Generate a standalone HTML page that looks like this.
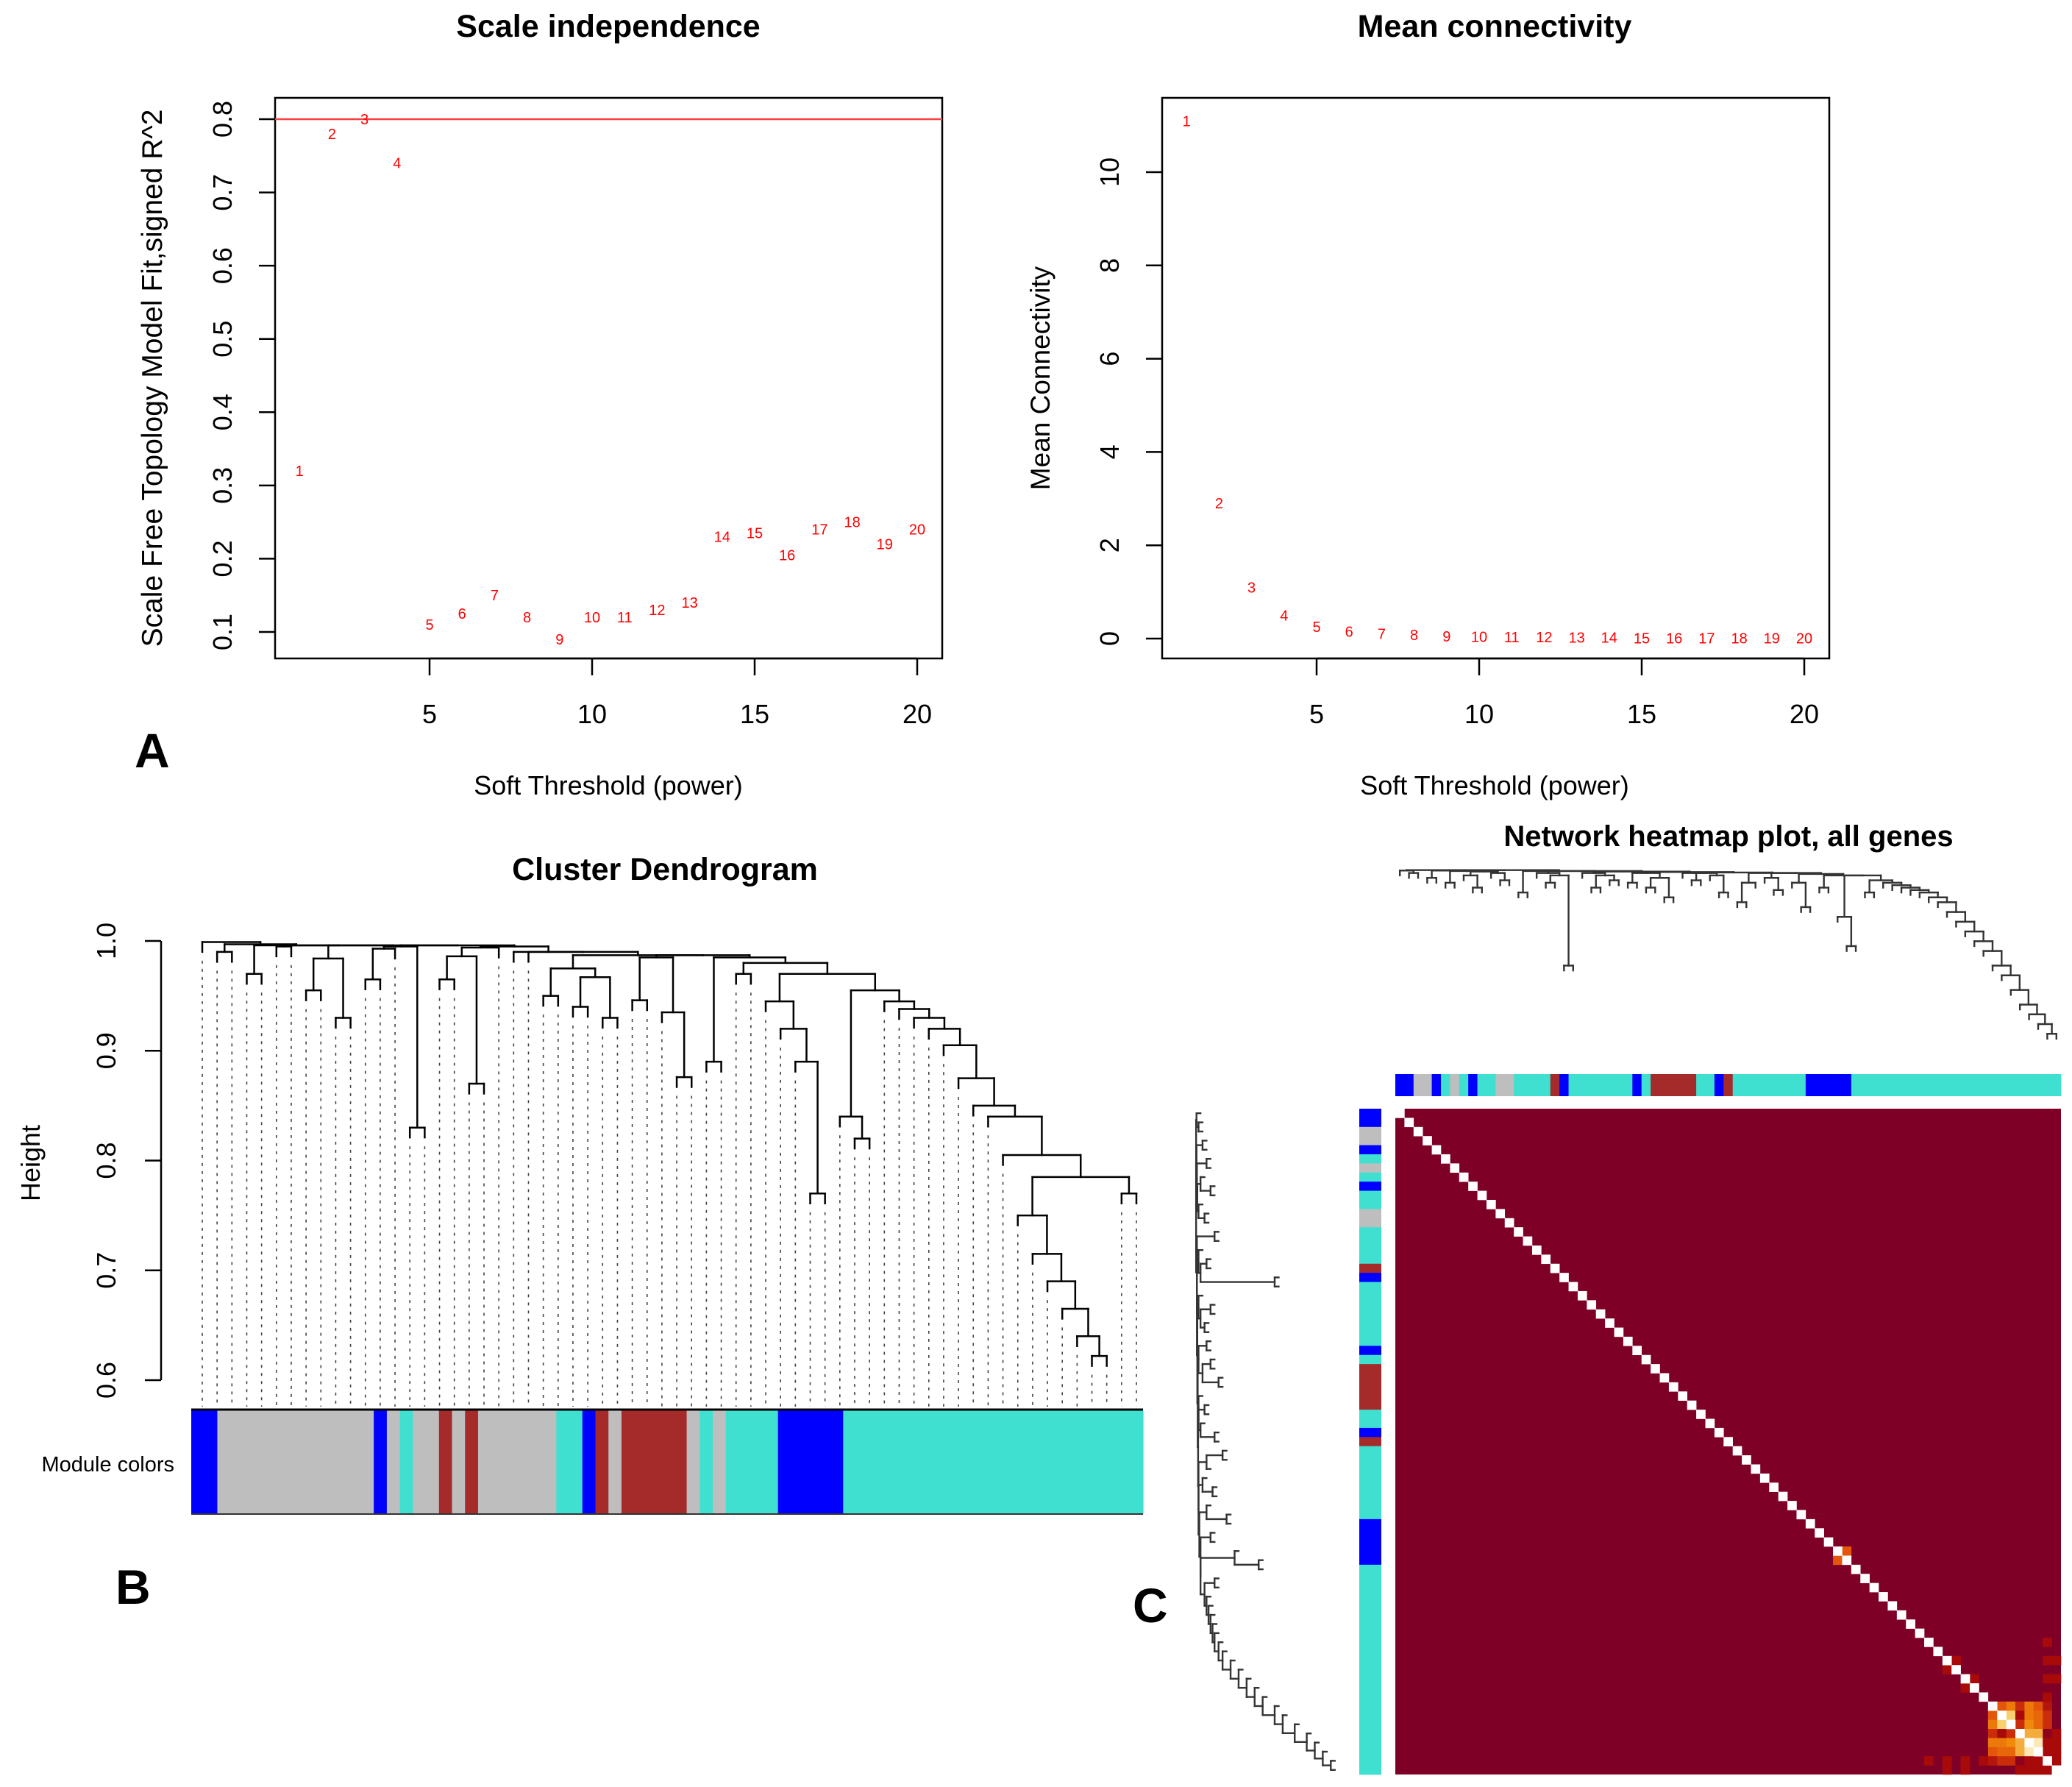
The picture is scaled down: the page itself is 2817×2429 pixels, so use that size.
<!DOCTYPE html>
<html><head><meta charset="utf-8"><style>
html,body{margin:0;padding:0;background:#fff}
svg{display:block;font-family:"Liberation Sans",sans-serif}
</style></head><body>
<svg id="fig" width="2817" height="2429" viewBox="0 0 2817 2429" xmlns="http://www.w3.org/2000/svg">
<rect width="2817" height="2429" fill="#fff"/>
<text x="827" y="50" font-size="43" font-weight="bold" text-anchor="middle">Scale independence</text>
<text x="2032" y="50" font-size="43" font-weight="bold" text-anchor="middle">Mean connectivity</text>
<text x="827" y="1080" font-size="36" text-anchor="middle">Soft Threshold (power)</text>
<text x="2032" y="1080" font-size="36" text-anchor="middle">Soft Threshold (power)</text>
<text transform="translate(220,514) rotate(-90)" font-size="39" text-anchor="middle">Scale Free Topology Model Fit,signed R^2</text>
<text transform="translate(1427,514) rotate(-90)" font-size="37" text-anchor="middle">Mean Connectivity</text>
<text x="183" y="1043" font-size="66" font-weight="bold">A</text>
<text x="157" y="2180" font-size="66" font-weight="bold">B</text>
<text x="1540" y="2205" font-size="66" font-weight="bold">C</text>
<text x="904" y="1196" font-size="43" font-weight="bold" text-anchor="middle">Cluster Dendrogram</text>
<text x="2350" y="1150" font-size="40" font-weight="bold" text-anchor="middle">Network heatmap plot, all genes</text>
<text transform="translate(54,1581) rotate(-90)" font-size="36" text-anchor="middle">Height</text>
<text x="237" y="2000" font-size="29" text-anchor="end">Module colors</text>
<g id="gA"></g>
<g id="gB"></g>
<g id="gD"></g>
<g id="gH"></g>
</svg>
<script>
const powers = [1,2,3,4,5,6,7,8,9,10,11,12,13,14,15,16,17,18,19,20];
const scaleFitR2 = [0.32,0.78,0.80,0.74,0.11,0.125,0.15,0.12,0.09,0.12,0.12,0.13,0.14,0.23,0.235,0.205,0.24,0.25,0.22,0.24];
const meanConn = [11.1,2.9,1.1,0.5,0.25,0.15,0.1,0.08,0.05,0.04,0.03,0.03,0.02,0.02,0.01,0.01,0.01,0.01,0.01,0.01];
const xTicks = [5,10,15,20];
const r2Ticks = [0.1,0.2,0.3,0.4,0.5,0.6,0.7,0.8];
const connTicks = [0,2,4,6,8,10];
const r2Cut = 0.8;
const clusterGaps = [0.999,0.99,0.997,0.97,0.996,0.995,0.996,0.955,0.984,0.93,0.996,0.965,0.993,0.995,0.83,0.996,0.965,0.986,0.87,0.994,0.995,0.99,0.99,0.95,0.975,0.94,0.967,0.93,0.987,0.946,0.985,0.935,0.876,0.987,0.89,0.985,0.97,0.98,0.945,0.92,0.89,0.77,0.97,0.84,0.82,0.955,0.945,0.938,0.93,0.92,0.905,0.875,0.85,0.84,0.805,0.75,0.715,0.69,0.665,0.64,0.622,0.785,0.77];
const heightTicks = [0.6,0.7,0.8,0.9,1.0];
const moduleRunColors = ['blue','grey','blue','grey','turquoise','grey','brown','grey','brown','grey','turquoise','blue','brown','grey','brown','grey','turquoise','grey','turquoise','blue','turquoise'];
const moduleRunLengths = [2,12,1,1,1,2,1,1,1,6,2,1,1,1,5,1,1,1,4,5,23];
const heatRunColors = ['blue','grey','blue','turquoise','grey','turquoise','blue','turquoise','grey','turquoise','brown','blue','turquoise','blue','turquoise','brown','turquoise','blue','brown','turquoise','blue','turquoise'];
const heatRunLengths = [2,2,1,1,1,1,1,2,2,4,1,1,7,1,1,5,2,1,1,8,5,23];
const heatGaps = [0.995,0.99,0.996,0.98,0.995,0.97,0.994,0.985,0.96,0.993,0.99,0.975,0.996,0.95,0.994,0.99,0.97,0.985,0.8,0.994,0.99,0.96,0.985,0.975,0.993,0.97,0.99,0.96,0.98,0.94,0.992,0.99,0.975,0.99,0.985,0.95,0.991,0.93,0.97,0.99,0.98,0.955,0.99,0.97,0.92,0.988,0.96,0.985,0.9,0.84,0.985,0.95,0.975,0.97,0.965,0.96,0.955,0.95,0.94,0.93,0.91,0.89,0.87,0.85,0.83,0.8,0.78,0.75,0.72,0.7,0.68,0.66];
const tomRows = [65,65,65,65,65,65,66,66,66,66,66,67,67,67,67,68,68,68,68,69,69,69,70,70,71,71,71,48,60,62,58,63,72,72];
const tomCols = [66,67,68,69,70,71,67,68,69,70,71,68,69,70,71,69,70,71,72,70,71,72,71,72,72,64,60,49,61,71,71,62,62,60];
const tomVals = [0.45,0.55,0.3,0.55,0.45,0.2,0.8,0.15,0.55,0.5,0.3,0.3,0.6,0.5,0.3,0.7,0.7,0.05,0.15,0.9,0.15,0.15,0.15,0.15,0.15,0.15,0.15,0.45,0.15,0.15,0.15,0.15,0.15,0.15];

const NS='http://www.w3.org/2000/svg';
function mk(parent, tag, attrs){const e=document.createElementNS(NS,tag);for(const k in attrs)e.setAttribute(k,attrs[k]);parent.appendChild(e);return e;}
const COL={blue:'#0000ff',grey:'#bebebe',turquoise:'#40e0d0',brown:'#a52a2a'};

(function(){
 const g=document.getElementById('gA');
 const X=v=>584+(v-5)*(1247-584)/15, Y=v=>859-(v-0.1)*(859-162)/0.7;
 let e=mk(g,'rect',{x:374,y:133,width:907,height:762,fill:'none',stroke:'#000','stroke-width':2.5});
 
 e=mk(g,'line',{x1:374,x2:1281,y1:Y(r2Cut),y2:Y(r2Cut),stroke:'#ff4040','stroke-width':2.5});
 
 mk(g,'line',{x1:X(xTicks[0]),x2:X(xTicks[xTicks.length-1]),y1:895,y2:895,stroke:'#000','stroke-width':2.5});
 xTicks.forEach(t=>{mk(g,'line',{x1:X(t),x2:X(t),y1:895,y2:918,stroke:'#000','stroke-width':2.5});
  e=mk(g,'text',{x:X(t),y:983,'font-size':36,'text-anchor':'middle'});e.textContent=t;
  });
 r2Ticks.forEach(t=>{mk(g,'line',{x1:352,x2:374,y1:Y(t),y2:Y(t),stroke:'#000','stroke-width':2.5});
  e=mk(g,'text',{transform:`translate(315,${Y(t)}) rotate(-90)`,'font-size':36,'text-anchor':'middle'});e.textContent=t.toFixed(1);
  });
 powers.forEach((p,i)=>{e=mk(g,'text',{x:X(p),y:Y(scaleFitR2[i])+7,'font-size':20,fill:'red','text-anchor':'middle'});e.textContent=p;
  });
})();
(function(){
 const g=document.getElementById('gB');
 const X=v=>1790+(v-5)*(2453-1790)/15, Y=v=>868-v*(868-234)/10;
 let e=mk(g,'rect',{x:1580,y:133,width:907,height:762,fill:'none',stroke:'#000','stroke-width':2.5});
 
 mk(g,'line',{x1:X(xTicks[0]),x2:X(xTicks[xTicks.length-1]),y1:895,y2:895,stroke:'#000','stroke-width':2.5});
 xTicks.forEach(t=>{mk(g,'line',{x1:X(t),x2:X(t),y1:895,y2:918,stroke:'#000','stroke-width':2.5});
  e=mk(g,'text',{x:X(t),y:983,'font-size':36,'text-anchor':'middle'});e.textContent=t;
  });
 connTicks.forEach(t=>{mk(g,'line',{x1:1558,x2:1580,y1:Y(t),y2:Y(t),stroke:'#000','stroke-width':2.5});
  e=mk(g,'text',{transform:`translate(1521,${Y(t)}) rotate(-90)`,'font-size':36,'text-anchor':'middle'});e.textContent=t;
  });
 powers.forEach((p,i)=>{e=mk(g,'text',{x:X(p),y:Y(meanConn[i])+7,'font-size':20,fill:'red','text-anchor':'middle'});e.textContent=p;
  });
})();

function dendro(g,gaps,pos,hmap,orient,hang,leafCb){
 function build(lo,hi,parentH){
  if(lo===hi){const h=parentH-hang;if(leafCb)leafCb(lo,h);return {p:pos(lo),h:h};}
  let k=lo;for(let i=lo;i<hi;i++)if(gaps[i]>gaps[k])k=i;
  const h=gaps[k];const L=build(lo,k,h),R=build(k+1,hi,h);
  [L,R].forEach(c=>seg(c.p,c.h,c.p,h));
  seg(L.p,h,R.p,h);
  return {p:(L.p+R.p)/2,h:h};
 }
 function seg(p1,h1,p2,h2){
  let a;
  if(orient==='v')a={x1:p1,y1:hmap(h1),x2:p2,y2:hmap(h2)};else a={y1:p1,x1:hmap(h1),y2:p2,x2:hmap(h2)};
  a.stroke='#000';a['stroke-width']=2.5;a['stroke-linecap']='square';
  const e=mk(g,'line',a);
  
  
 }
 const top=Math.max(...gaps);
 build(0,gaps.length,top+hang);
}
function expandRuns(cols,lens){const out=[];cols.forEach((c,i)=>{for(let j=0;j<lens[i];j++)out.push(c);});return out;}

(function(){
 const g=document.getElementById('gD');
 const Y=h=>1876-(h-0.6)*(1876-1279)/0.4;
 mk(g,'line',{x1:219,x2:219,y1:Y(0.6),y2:Y(1.0),stroke:'#000','stroke-width':2.5});
 heightTicks.forEach(t=>{mk(g,'line',{x1:197,x2:219,y1:Y(t),y2:Y(t),stroke:'#000','stroke-width':2.5});
  const e=mk(g,'text',{transform:`translate(157,${Y(t)}) rotate(-90)`,'font-size':36,'text-anchor':'middle'});e.textContent=t.toFixed(1);
  });
 const n=clusterGaps.length+1;
 const pos=i=>275+i*(1545-275)/(n-1);
 dendro(g,clusterGaps,pos,Y,'v',0.009,(i,h)=>{
  const e=mk(g,'line',{x1:pos(i),x2:pos(i),y1:Y(h)+12,y2:1912,stroke:'#444','stroke-width':1.6,'stroke-dasharray':'4 7'});
  
  
 });
 const mods=expandRuns(moduleRunColors,moduleRunLengths);
 const x0=260,x1=1554,w=(x1-x0)/mods.length;
 mods.forEach((c,i)=>{const e=mk(g,'rect',{x:x0+i*w,y:1917,width:w+0.6,height:141,fill:COL[c]});
  });
 mk(g,'line',{x1:x0,x2:x1,y1:1916,y2:1916,stroke:'#000','stroke-width':3});
 mk(g,'line',{x1:x0,x2:x1,y1:2058,y2:2058,stroke:'#333','stroke-width':2});
})();

(function(){
 const g=document.getElementById('gH');
 const mods=expandRuns(heatRunColors,heatRunLengths);
 const n=mods.length, X0=1897, Y0=1507, S=905/n;
 function heat(v){
  const stops=[[0,[127,0,39]],[0.15,[168,10,10]],[0.4,[224,68,10]],[0.6,[240,138,10]],[0.8,[248,208,112]],[1,[255,255,255]]];
  for(let i=1;i<stops.length;i++){if(v<=stops[i][0]){const a=stops[i-1],b=stops[i],t=(v-a[0])/(b[0]-a[0]);
   return 'rgb('+a[1].map((c,k)=>Math.round(c+(b[1][k]-c)*t)).join(',')+')';}}
  return '#fff';
 }
 let e=mk(g,'rect',{x:X0,y:Y0,width:905,height:905,fill:heat(0)});
 
 function cell(r,c,v){const el=mk(g,'rect',{x:X0+c*S,y:Y0+r*S,width:S+0.3,height:S+0.3,fill:heat(v)});
  }
 tomRows.forEach((r,i)=>{cell(r,tomCols[i],tomVals[i]);cell(tomCols[i],r,tomVals[i]);});
 for(let i=0;i<n;i++)cell(i,i,1);
 mods.forEach((c,i)=>{
  let el=mk(g,'rect',{x:X0+i*S,y:1460,width:S+0.4,height:30,fill:COL[c]});
  
  el=mk(g,'rect',{x:1848,y:Y0+i*S,width:30,height:S+0.4,fill:COL[c]});
  
 });
 const gt=mk(g,'g',{});
 const gl=mk(g,'g',{});
 const pos=i=>X0+(i+0.5)*S;
 dendro(gt,heatGaps,pos,h=>1180+(1-h)*(1445-1180)/0.4,'v',0.01);
 const posy=i=>Y0+(i+0.5)*S;
 dendro(gl,heatGaps,posy,h=>1624+(1-h)*(1842-1624)/0.4,'h',0.01);
 [gt,gl].forEach(gg=>gg.querySelectorAll('line').forEach(l=>{l.setAttribute('stroke-width','2.4');l.setAttribute('stroke','#333');}));
})();
</script>
</body></html>
